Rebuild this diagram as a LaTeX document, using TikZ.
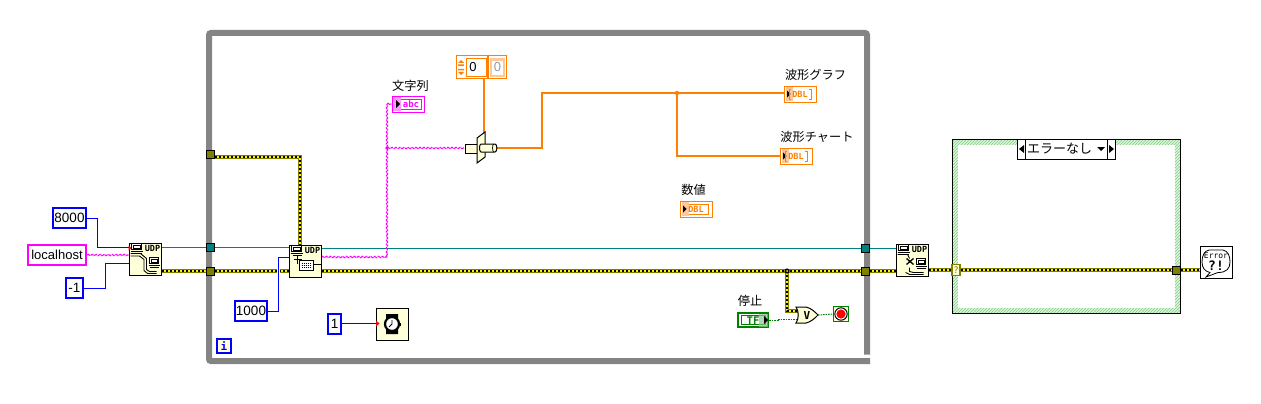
\documentclass[tikz,border=0pt]{standalone}
\usepackage{fontspec}
\setmainfont{Liberation Sans}
\newfontfamily\jpfont{Noto Sans CJK JP}
\newfontfamily\vifont{DejaVu Sans Mono}
\usetikzlibrary{backgrounds,patterns,decorations.pathmorphing}
\definecolor{viyellow}{HTML}{FFFFD8}
\definecolor{wblue}{HTML}{0000FF}
\definecolor{wpink}{HTML}{FF00FF}
\definecolor{wteal}{HTML}{008080}
\definecolor{wolive}{HTML}{808000}
\definecolor{worange}{HTML}{FF8000}
\definecolor{wgreen}{HTML}{008000}
\definecolor{peach}{HTML}{FFC89A}
\definecolor{framegray}{HTML}{848484}
\definecolor{hatchbg}{HTML}{DDF3DD}
\definecolor{hatchfg}{HTML}{7FD07F}
\newcommand\pcicon[2]{%
  \draw[black,line width=.8,fill=white] (#1,#2) rectangle ++(10,6);
  \fill[black] (#1+1,#2+1) rectangle ++(8,4);
  \fill[white] (#1+2,#2+2) rectangle ++(6,2);
  \draw[black,line width=1] (#1-1,#2+8) -- ++(12,0);
  \draw[black,line width=.8] (#1+1,#2+10) -- ++(9,0);
}
\newcommand\udptag[2]{\node[inner sep=0,font=\vifont\bfseries\fontsize{8.5}{9}\selectfont] at (#1,#2) {UDP};}
\newcommand\numind[4]{% name, x, y(nw), extra
  \node[numbox] (#1) at (#2+16,#3+8) {};
  \fill[peach] (#2+1.5,#3+1) rectangle (#2+9,#3+15);
  \fill[black] (#2+3,#3+4.5) -- (#2+6.5,#3+8) -- (#2+3,#3+11.5) -- cycle;
  \node[inner sep=0,text=worange,font=\vifont\bfseries\fontsize{8.5}{9}\selectfont] at (#2+16,#3+8.5) {DBL};
  #4
}
\tikzset{
  viblock/.style={draw=black,fill=viyellow,line width=1,minimum width=32,minimum height=32,inner sep=0},
  bluebox/.style={draw=wblue,fill=white,line width=2.4,inner sep=0,font=\fontsize{13.5}{14}\selectfont,minimum height=20},
  tunnel/.style={draw=black,line width=1,minimum size=8,inner sep=0},
  numbox/.style={draw=worange,fill=white,line width=1,minimum width=32,minimum height=16,inner sep=0},
  jplabel/.style={inner sep=0,font=\jpfont\fontsize{12.2}{13}\selectfont},
  bluew/.style={draw=wblue,line width=1},
  tealw/.style={draw=wteal,line width=1},
  orangew/.style={draw=worange,line width=2},
  greenw/.style={draw=wgreen,line width=1,dash pattern=on 1.5 off 1},
  pinkw/.style={draw=wpink,line width=1.1,dash pattern=on 3.5 off .8,decorate,decoration={zigzag,segment length=4,amplitude=.7}},
  errw/.style={draw=wolive,line width=4.4,postaction={draw=yellow,line width=2},postaction={draw=black,line width=2,dash pattern=on 2 off 2}},
}
\begin{document}
\begin{tikzpicture}[x=1pt,y=-1pt,line cap=butt,line join=miter]
\useasboundingbox (0,0) rectangle (1261,404);
% constants
\node[bluebox,minimum width=33] (c8000) at (69.5,218) {8000};
\node[draw=wpink,fill=white,line width=2.4,inner sep=0,font=\fontsize{13}{14}\selectfont,minimum height=20,minimum width=58] (host) at (57,255) {localhost};
\node[bluebox,minimum width=17] (cm1) at (74.5,288) {-1};
\node[bluebox,minimum width=32] (c1000) at (251,311) {1000};
\node[bluebox,minimum width=13] (c1) at (334.5,324) {1};
% VIs
\node[viblock] (open) at (145,259) {};
\begin{scope}[shift={(open.north west)}]
 \pcicon{3}{1} \udptag{24}{5.5}
 \draw[black,line width=.9] (2,11) -- (12,11) -- (18,16) -- (18,27) -- (21,29) -- (28,29);
 \draw[black,line width=.9] (2,13.5) -- (11,13.5) -- (15.5,17) -- (15.5,28) -- (19,31) -- (28,31);
 \draw[black,line width=.8,fill=white] (21,15) rectangle (30,21); \fill[black] (22,16) rectangle (29,20); \fill[white] (23,17) rectangle (28,19);
 \draw[black,line width=1] (20,23) -- (31,23); \draw[black,line width=.8] (21,25) -- (30,25);
 \fill[red] (0,3) -- (3,5.5) -- (0,8) -- cycle;
\end{scope}
\node[viblock] (read) at (305,261) {};
\begin{scope}[shift={(read.north west)}]
 \pcicon{3}{1} \udptag{24}{5.5}
 \draw[black,line width=1.2] (5,15) -- (13,15); \draw[black,line width=1.2] (9,11) -- (9,19);
 \draw[black,line width=.8,fill=white] (11,16) rectangle (25,26);
 \draw[black,line width=.7,dash pattern=on 1 off 1] (13,19) -- (23,19) (13,21) -- (23,21) (13,23) -- (23,23);
 \draw[black,line width=1] (25,20) -- (32,20);
\end{scope}
\node[viblock] (close) at (912,260) {};
\begin{scope}[shift={(close.north west)}]
 \pcicon{3}{1} \udptag{24}{5.5}
 \draw[black,line width=.9] (2,11) -- (12,11) -- (14,15); \draw[black,line width=.9] (10,29) -- (14,31) -- (28,31);
 \draw[black,line width=.9] (14,24) -- (14,28) -- (18,29) -- (28,29);
 \draw[black,line width=1.3] (11,15) -- (18,21) (18,15) -- (11,21);
 \draw[black,line width=.8,fill=white] (21,15) rectangle (30,21); \fill[black] (22,16) rectangle (29,20); \fill[white] (23,17) rectangle (28,19);
 \draw[black,line width=1] (20,23) -- (31,23); \draw[black,line width=.8] (21,25) -- (30,25);
\end{scope}
\node[viblock,fill=white] (err) at (1216,262.5) {};
\draw[black,line width=.8,fill=white] (1209,250) -- (1223,250) .. controls (1228,251) and (1230,256) .. (1230,262) .. controls (1230,269) and (1226,272.5) .. (1218,272.5) -- (1206,277) -- (1210,272.5) .. controls (1205,271.5) and (1202,268) .. (1202,262) .. controls (1202,256) and (1204,251) .. (1209,250) -- cycle;
\node[inner sep=0,font=\vifont\fontsize{8}{8}\selectfont] (errtxt) at (1216,256) {Error};
\node[inner sep=0,font=\vifont\bfseries\fontsize{13}{13}\selectfont] (errsym) at (1216,265.5) {?!};
% wait
\node[viblock] (wait) at (392,324) {};
\fill[black] (386,314) rectangle (398,319) (386,329) rectangle (398,334);
\draw[black,line width=2.2,fill=white] (392,324) circle (7);
\draw[black,line width=.9] (392,320) -- (392,324) -- (389,327);
\fill[black] (399,322.5) rectangle (401,325.5);
\fill[red] (376,320.5) -- (379.5,323.5) -- (376,326.5) -- cycle;
% i terminal
\node[draw=wblue,fill=viyellow,line width=2,minimum size=14.5,inner sep=0,text=wblue,font=\vifont\bfseries\fontsize{11}{12}\selectfont] (iter) at (224,346) {i};
% tunnels
\node[tunnel,fill=wteal] (tl) at (210.5,247.5) {};
\node[tunnel,fill=wolive] (el) at (210.5,271) {};
\node[tunnel,fill=wolive] (es) at (210.5,154.5) {};
\node[tunnel,fill=wteal] (tr) at (865.5,248) {};
\node[tunnel,fill=wolive] (er) at (865.5,271) {};
\node[tunnel,fill=wolive] (ec) at (1176.5,270) {};
\node[draw=wolive,fill=viyellow,line width=1.2,minimum width=8,minimum height=11,inner sep=0,text=wolive,font=\vifont\fontsize{9}{9}\selectfont] (csel) at (956,270) {?};
% string indicator
\node[jplabel] (ls) at (410.5,86) {文字列};
\node[draw=wpink,fill=white,line width=1,minimum width=32,minimum height=16,inner sep=0] (str) at (408,104) {};
\draw[wpink,line width=1] (400,99) rectangle (421,109);
\fill[wpink!40] (393,97) rectangle (401,111);
\fill[black] (396,100) -- (400,104) -- (396,108) -- cycle;
\node[inner sep=0,text=wpink,font=\vifont\bfseries\fontsize{9}{9}\selectfont] (abct) at (411,104) {abc};
% orange control & constant
\node[draw=worange,fill=white,line width=1,minimum width=31,minimum height=23,inner sep=0] (ctl) at (471.5,67.5) {};
\draw[worange,line width=1] (466,58.5) rectangle (486,77);
\node[inner sep=0,font=\fontsize{13}{14}\selectfont] (ctlt) at (473,67.5) {0};
\fill[worange] (458,63) -- (461,60) -- (464,63) -- cycle (458,72) -- (461,75) -- (464,72) -- cycle;
\fill[worange] (458,64.5) rectangle (464,66) (458,69) rectangle (464,70.5);
\node[draw=worange,fill=white,line width=1,minimum width=18,minimum height=23,inner sep=0] (cst) at (497.5,67.5) {};
\draw[peach,line width=2.5] (491,59.5) rectangle (504,76);
\node[inner sep=0,text=black!40,font=\fontsize{13}{14}\selectfont] (cstt) at (497.5,67.5) {0};
% bundle
\draw[black,line width=1,fill=viyellow] (465,144) -- (478,144) -- (478,153) -- (465,153) -- cycle;
\draw[black,line width=1,fill=viyellow] (477,138) -- (485,132) -- (485,157) -- (477,163) -- cycle;
\draw[black,line width=1,fill=viyellow] (481,144) -- (495,144) .. controls (497.5,144) and (497.5,152) .. (495,152) -- (481,152) .. controls (479,152) and (479,144) .. (481,144) -- cycle;
\draw[black,line width=.7] (494,144) .. controls (492,144) and (492,152) .. (494,152);
\node[inner sep=0,minimum width=32,minimum height=20] (bun) at (481,148) {};
% indicators
\node[jplabel] (lg) at (815.5,75) {波形グラフ};
\numind{graph}{784}{86}{\draw[worange,line width=1] (791,89) -- (789,89) -- (789,99) -- (791,99) (809,89) -- (811,89) -- (811,99) -- (809,99);}
\node[jplabel] (lc) at (817,137) {波形チャート};
\numind{chart}{780}{148}{\draw[worange,line width=1] (787,151) -- (785,151) -- (785,161) -- (787,161) (805,151) -- (807,151) -- (807,161) -- (805,161);}
\node[jplabel] (ln) at (693.5,190) {数値};
\numind{num}{680}{201}{\draw[worange,line width=1] (689,204) -- (708,204) -- (708,214) -- (689,214);}
% stop
\node[jplabel] (lb) at (750,301) {停止};
\node[draw=wgreen,fill=white,line width=2.4,minimum width=30,minimum height=14,inner sep=0] (bool) at (753,320) {};
\draw[wgreen,line width=1] (741,315.5) rectangle (765,324.5);
\node[inner sep=0,text=wgreen,font=\vifont\bfseries\fontsize{10.5}{10}\selectfont] (tf) at (753,320.5) {TF};
\fill[wgreen!45,opacity=.7] (759,314) rectangle (768,327);
\fill[black] (764,316) -- (768,320) -- (764,324) -- cycle;
\draw[black,line width=1,fill=viyellow] (796,307) -- (806,307) .. controls (811,308) and (815,312) .. (818,315) .. controls (815,318) and (811,322) .. (806,323) -- (796,323) .. controls (799,319) and (799,311) .. (796,307) -- cycle;
\node[inner sep=0,minimum width=22,minimum height=16,font=\vifont\bfseries\fontsize{11}{12}\selectfont] (orgate) at (807,315) {V};
\node[draw=wgreen,fill=viyellow,line width=1.2,minimum size=15,inner sep=0] (stop) at (841,314) {};
\draw[black,line width=1,fill=white] (841,314) circle (6.2);
\fill[red] (841,314) circle (4.6);
% case selector
\node[draw=black,fill=white,line width=1,minimum width=81.5,minimum height=20,inner sep=0] (sel) at (1066.5,149) {};
\node[draw=black,fill=white,line width=1,minimum width=8.5,minimum height=20,inner sep=0] (sl) at (1021.5,149) {};
\node[draw=black,fill=white,line width=1,minimum width=8.5,minimum height=20,inner sep=0] (sr) at (1111.5,149) {};
\fill[black] (1024,145) -- (1019,149) -- (1024,153) -- cycle (1109,145) -- (1114,149) -- (1109,153) -- cycle (1097,147) -- (1105,147) -- (1101,151) -- cycle;
\node[inner sep=0,font=\jpfont\fontsize{13}{14}\selectfont] (seltxt) at (1059.5,149) {エラーなし};
% wire ports
\coordinate (oa) at (open.west|-0,247.5);
\coordinate (ob) at (open.west|-0,255);
\coordinate (oc) at (open.west|-0,263.5);
\coordinate (jpink) at (387,148);
\coordinate (jorange) at (677,93);
\coordinate (jerr) at (787,271);
\begin{pgfonlayer}{background}
 \fill[white] (0,0) rectangle (1261,404);
 % loop frame
 \draw[framegray,line width=6,rounded corners=2] (867,354.5) -- (867,33) -- (209,33) -- (209,361) -- (870,361);
 % case frame
 \fill[hatchbg] (952.5,139.5) rectangle (1180.5,313);
 \fill[pattern=north east lines,pattern color=hatchfg] (952.5,139.5) rectangle (1180.5,313);
 \fill[white] (958,145) rectangle (1175,307.5);
 \draw[black,line width=1] (952.5,139.5) rectangle (1180.5,313);
 % blue
 \draw[bluew] (c8000.east|-0,218.5) -- (97.5,218.5) -- (97.5,247.5) -- (oa);
 \draw[bluew] (cm1.east|-0,288.5) -- (105.5,288.5) -- (105.5,263.5) -- (oc);
 \draw[bluew] (c1.east|-0,323.5) -- (wait.west|-0,323.5);
 % teal
 \draw[tealw] (open.east|-0,247.5) -- (tl.west|-0,247.5);
 \draw[tealw] (tl.east|-0,247.5) -- (read.west|-0,247.5);
 \draw[tealw] (read.east|-0,248.5) -- (tr.west|-0,248.5);
 \draw[tealw] (tr.east|-0,248.5) -- (close.west|-0,248.5);
 % error
 \draw[errw] (open.east|-0,271) -- (el.west);
 \draw[errw] (el.east) -- (read.west|-0,271);
 \draw[errw] (es.east|-0,157) -- (300,157) -- (300,245);
 \draw[errw] (read.east|-0,271) -- (er.west);
 \draw[errw] (er.east) -- (close.west|-0,271);
 \draw[errw] (close.east|-0,270) -- (csel.west);
 \draw[errw] (csel.east) -- (ec.west);
 \draw[errw] (ec.east) -- (err.west|-0,270);
 \draw[errw] (jerr) -- (787,311) -- (800,311);
 \draw[bluew,preaction={draw=white,line width=3.5}] (c1000.east|-0,311.5) -- (278.5,311.5) -- (278.5,257.5) -- (read.west|-0,257.5);
 % pink
 \path[pinkw] (host.east) -- (ob);
 \path[pinkw] (read.east|-0,257) -- (387,257);
 \path[pinkw] (387,257) -- (387,104);
 \path[pinkw] (387,104) -- (str.west);
 \path[pinkw] (jpink) -- (bun.west);
 \fill[wpink] (jpink) circle (1.8);
 % orange
 \draw[orangew] (ctl.south-|484,0) -- (484,134);
 \draw[orangew] (bun.east) -- (542,148) -- (542,93) -- (graph.west|-0,93);
 \draw[orangew] (jorange) -- (677,156) -- (chart.west);
 \fill[worange] (jorange) circle (2.2);
 % green
 \draw[greenw] (bool.east) -- (778,320) -- (778,319) -- (798,319);
 \draw[greenw] (orgate.east) -- (stop.west);
\end{pgfonlayer}
\fill[black] (jerr) circle (2.6);
\fill[yellow] (jerr) circle (1);
\end{tikzpicture}
\end{document}
